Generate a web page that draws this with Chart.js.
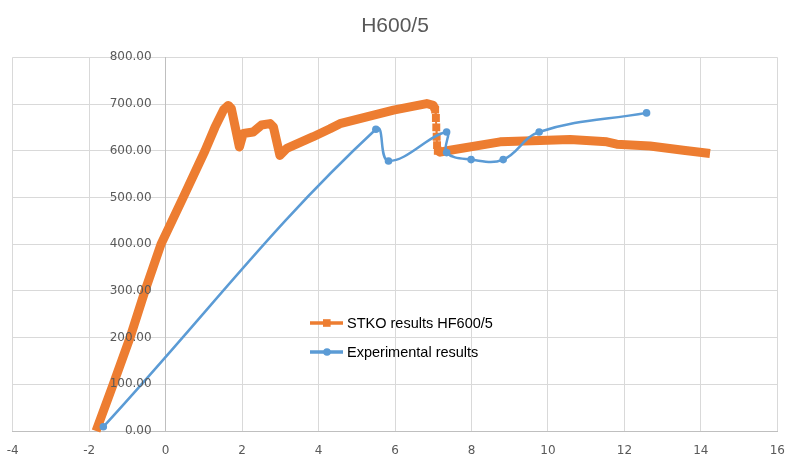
<!DOCTYPE html>
<html lang="en">
<head>
  <meta charset="UTF-8">
  <title>H600/5</title>
  <script src="https://cdn.jsdelivr.net/npm/chart.js"></script>
  <style>
    html, body {
      margin: 0;
      padding: 0;
      background: #ffffff;
    }
    .chart-container {
      position: relative;
      width: 801px;
      height: 473px;
    }
  </style>
</head>
<body>

<div class="chart-container">
  <canvas id="hfChart"></canvas>
</div>

<script>
  // Data
  const stkoLabel = 'STKO results HF600/5';
  const stkoX = [-1.82, -1.37, -0.93, -0.54, -0.12, 0.46, 1.03, 1.29, 1.52, 1.64, 1.72, 1.93, 2.03, 2.29, 2.51, 2.73, 2.82, 2.99, 3.17, 3.86, 4.30, 4.56, 5.96, 6.83, 7.00, 7.05,
                 7.07, 7.08, 7.09, 7.10, 7.12, 7.18, 7.44, 8.75, 9.79, 10.58, 11.54, 11.80, 12.67, 13.54, 14.24];
  const stkoY = [0, 100, 200, 300, 400, 500, 600, 650, 688, 697, 690, 608, 637, 640, 655, 658, 651, 590, 605, 630, 647, 658, 687, 701, 697, 688,
                 670, 650, 630, 612, 600, 597, 601, 619, 622, 624, 619, 614, 610, 601, 594];

  const expLabel = 'Experimental results';
  const expX = [-1.63, 5.50, 5.83, 7.35, 7.35, 7.99, 8.83, 9.77, 12.58];
  const expY = [9, 646, 578, 640, 596, 581, 581, 640, 681];

  const xTicks = [-4, -2, 0, 2, 4, 6, 8, 10, 12, 14, 16];
  const yTicks = [0, 100, 200, 300, 400, 500, 600, 700, 800];

  const toPoints = (xs, ys) => xs.map((x, i) => ({ x: x, y: ys[i] }));

  // the vertical drop near x = 7 shows separate square markers
  const DROP_FIRST = 25;
  const DROP_LAST = 30;
  const inDrop = i => i >= DROP_FIRST && i <= DROP_LAST;

  const ORANGE = '#ED7D31';
  const BLUE = '#5B9BD5';
  const TICK_FONT = '12px "DejaVu Sans", sans-serif';

  // y tick labels sit just left of the vertical axis that crosses at x = 0
  const yLabelsAtCross = {
    id: 'yLabelsAtCross',
    afterDraw(chart) {
      const c = chart.ctx;
      const ys = chart.scales.y;
      const xCross = chart.scales.x.getPixelForValue(0);
      c.save();
      c.fillStyle = '#595959';
      c.font = TICK_FONT;
      c.textAlign = 'right';
      c.textBaseline = 'middle';
      ys.ticks.forEach(t => {
        c.fillText(Number(t.value).toFixed(2), xCross - 14, ys.getPixelForValue(t.value));
      });
      c.restore();
    }
  };

  // Legend drawn inside the plot area
  const insideLegend = {
    id: 'insideLegend',
    afterDatasetsDraw(chart) {
      const c = chart.ctx;
      const items = [
        { text: stkoLabel, color: ORANGE, marker: 'rect', y: 323 },
        { text: expLabel, color: BLUE, marker: 'circle', y: 352 }
      ];
      c.save();
      items.forEach(it => {
        c.strokeStyle = it.color;
        c.lineWidth = 3.5;
        c.beginPath();
        c.moveTo(310, it.y);
        c.lineTo(343, it.y);
        c.stroke();
        c.fillStyle = it.color;
        if (it.marker === 'rect') {
          c.fillRect(323, it.y - 3.8, 7.6, 7.6);
        } else {
          c.beginPath();
          c.arc(327, it.y, 3.8, 0, Math.PI * 2);
          c.fill();
        }
        c.fillStyle = '#000000';
        c.font = '14.5px "Liberation Sans", Arial, sans-serif';
        c.textBaseline = 'middle';
        c.textAlign = 'left';
        c.fillText(it.text, 347, it.y + 1);
      });
      c.restore();
    }
  };

  const ctx = document.getElementById('hfChart').getContext('2d');
  new Chart(ctx, {
    type: 'scatter',
    data: {
      datasets: [{
        label: stkoLabel,
        data: toPoints(stkoX, stkoY),
        showLine: true,
        borderColor: ORANGE,
        backgroundColor: ORANGE,
        borderWidth: 9,
        borderJoinStyle: 'round',
        borderCapStyle: 'butt',
        pointStyle: 'rect',
        pointRadius: c => inDrop(c.dataIndex) ? 5.6 : 0,
        pointBorderWidth: 0,
        pointHoverRadius: 0,
        tension: 0,
        clip: 6,
        segment: {
          borderWidth: c => (inDrop(c.p0DataIndex) && inDrop(c.p1DataIndex)) ? 2 : 9
        },
        order: 2
      }, {
        label: expLabel,
        data: toPoints(expX, expY),
        showLine: true,
        borderColor: BLUE,
        backgroundColor: BLUE,
        borderWidth: 2.5,
        pointStyle: 'circle',
        pointRadius: 3.8,
        pointBorderWidth: 0,
        tension: 0.4,
        clip: 6,
        order: 1
      }]
    },
    options: {
      responsive: true,
      maintainAspectRatio: false,
      animation: false,
      layout: {
        padding: { left: 12.7, right: 23.7, top: 0, bottom: 0 }
      },
      scales: {
        x: {
          type: 'linear',
          min: -4,
          max: 16,
          afterBuildTicks: s => { s.ticks = xTicks.map(v => ({ value: v })); },
          afterFit: s => { s.height = 42; },
          grid: {
            color: '#d9d9d9',
            lineWidth: 1,
            drawTicks: true,
            tickLength: 13,
            tickColor: 'rgba(0,0,0,0)'
          },
          border: { color: '#bfbfbf' },
          ticks: {
            color: '#595959',
            font: { family: '"DejaVu Sans", sans-serif', size: 12 },
            padding: 0,
            maxRotation: 0
          }
        },
        y: {
          type: 'linear',
          position: { x: 0 },
          min: 0,
          max: 800,
          afterBuildTicks: s => { s.ticks = yTicks.map(v => ({ value: v })); },
          grid: { color: '#d9d9d9', lineWidth: 1, drawTicks: false },
          border: { color: '#bfbfbf' },
          ticks: { display: false }
        }
      },
      plugins: {
        legend: { display: false },
        tooltip: { enabled: false },
        title: {
          display: true,
          text: 'H600/5',
          color: '#595959',
          font: { family: '"Liberation Sans", Arial, sans-serif', size: 21, weight: 'normal' },
          padding: { top: 13.4, bottom: 18.7 }
        }
      }
    },
    plugins: [yLabelsAtCross, insideLegend]
  });
</script>

</body>
</html>
